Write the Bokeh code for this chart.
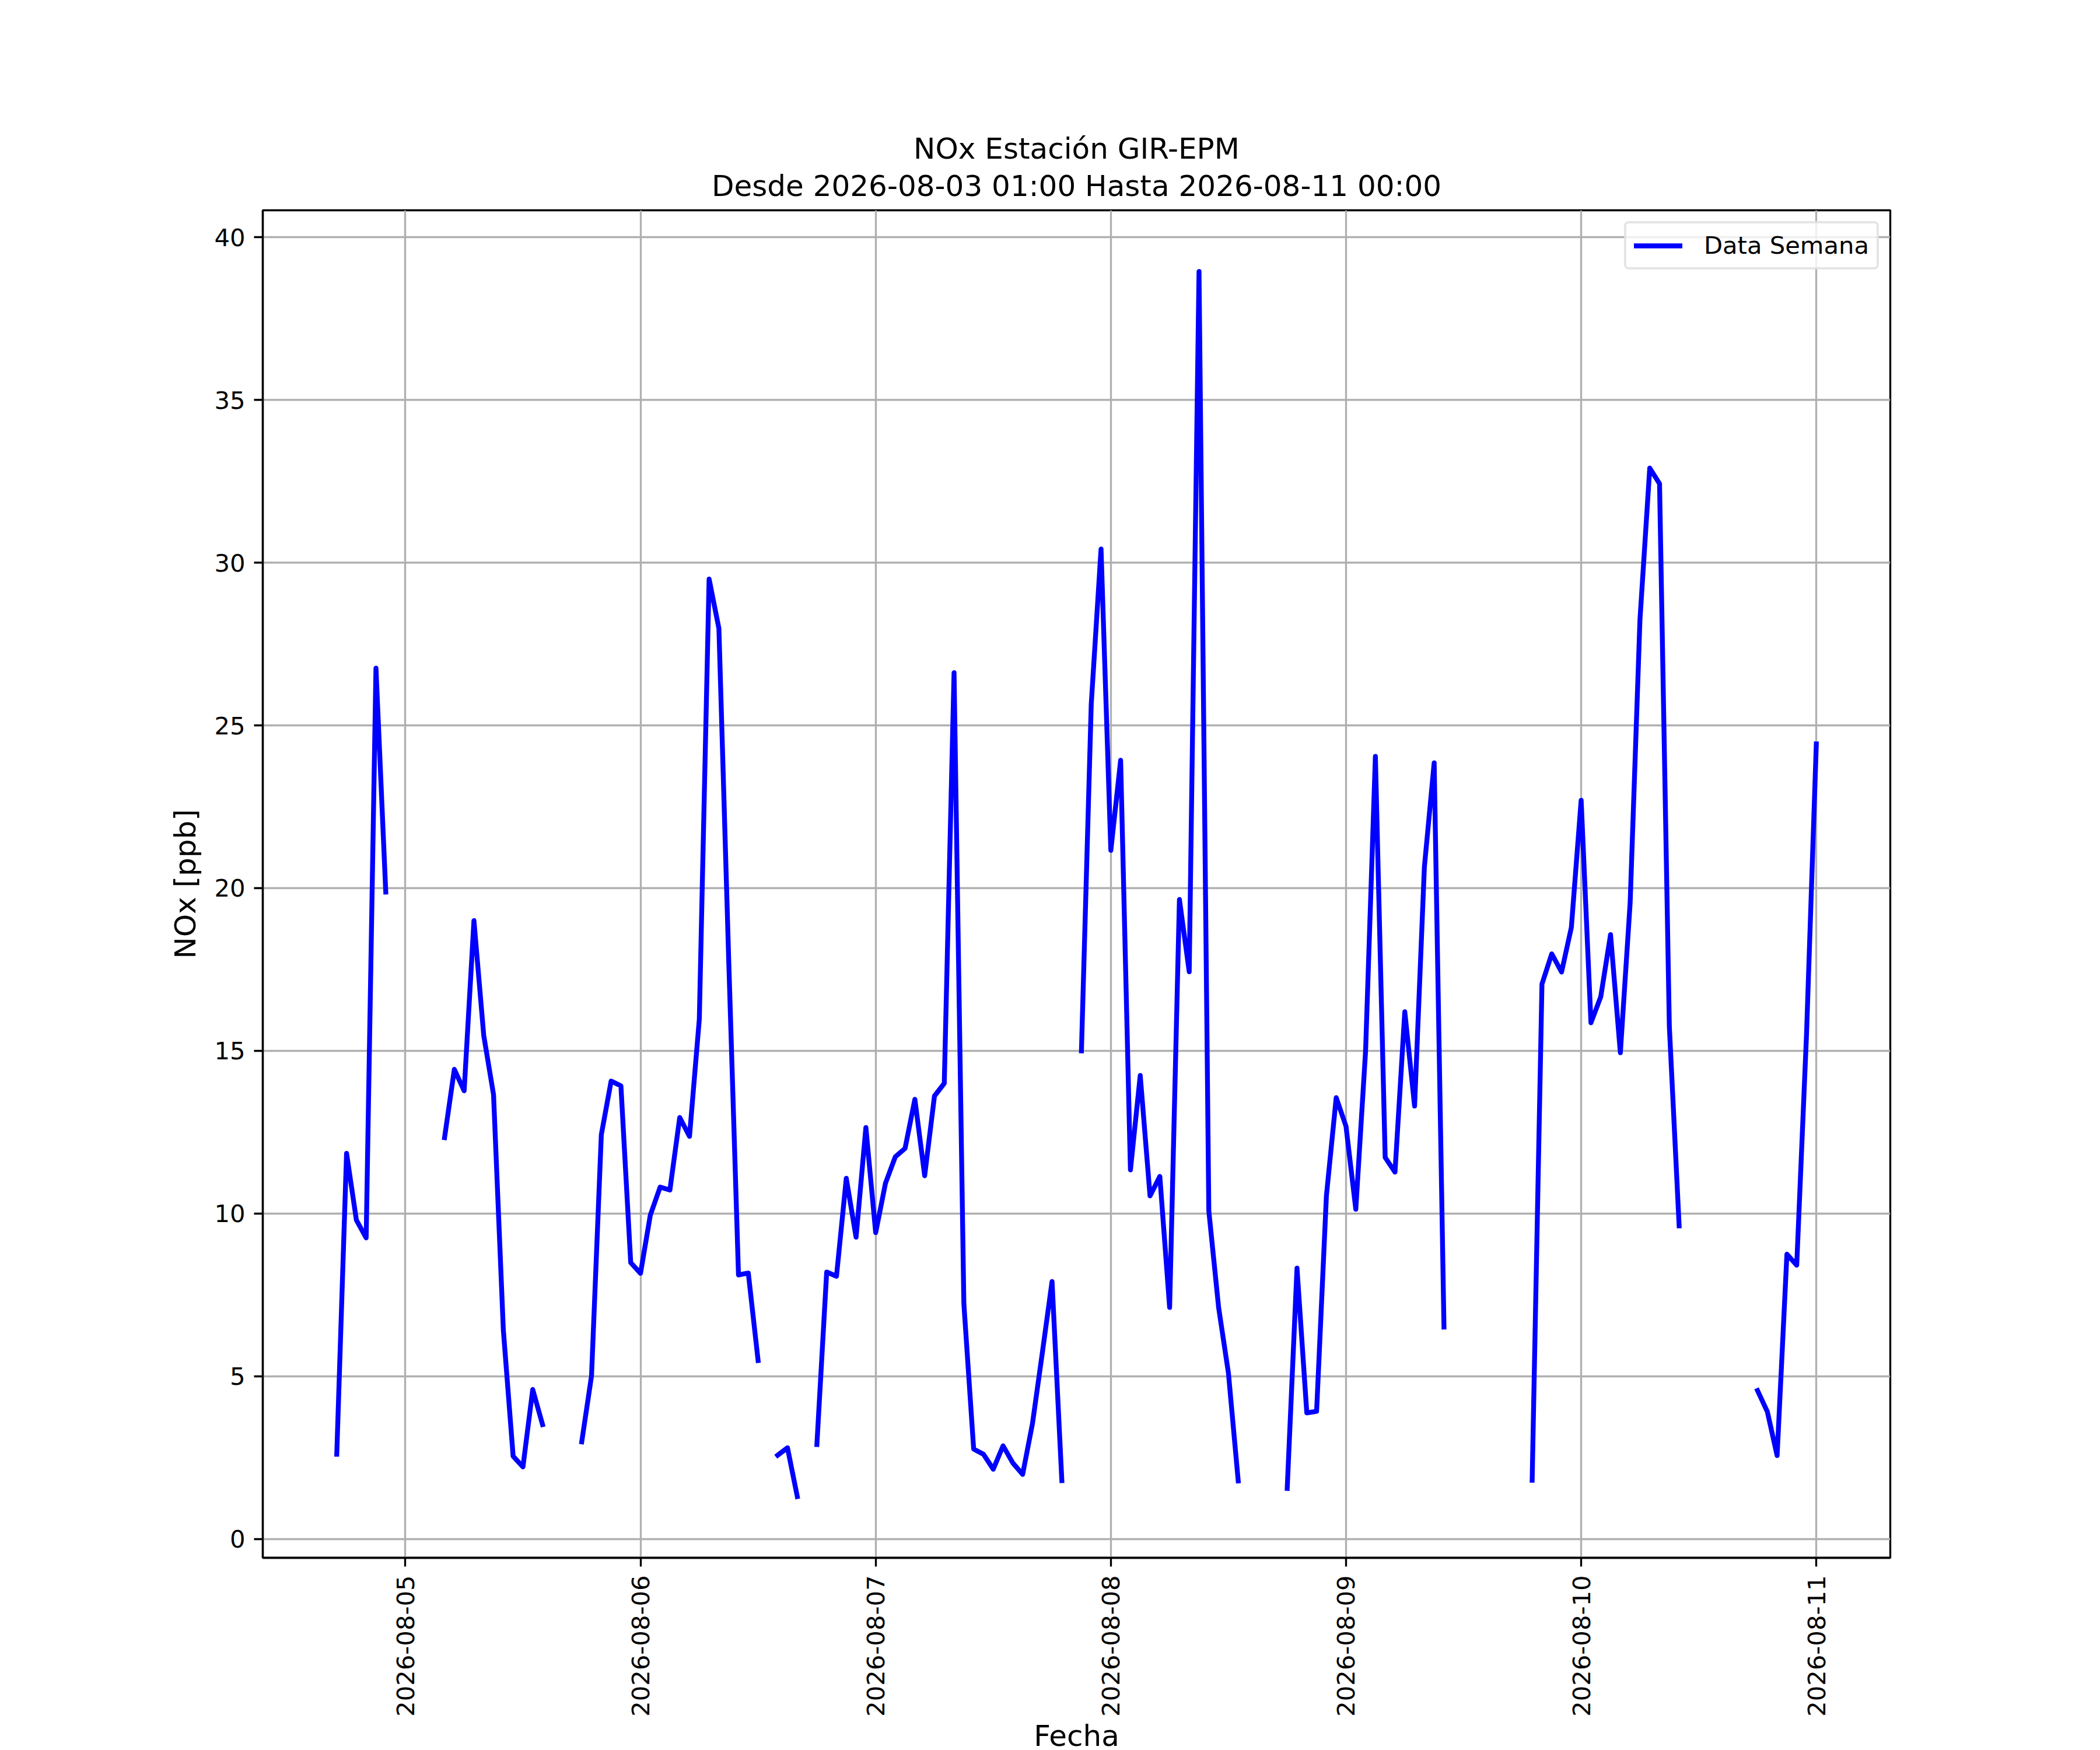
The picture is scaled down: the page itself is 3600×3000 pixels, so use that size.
import numpy as np
import pandas as pd
from bokeh.plotting import figure
from bokeh.models import (ColumnDataSource, Range1d, FixedTicker, DatetimeTickFormatter,
                          Title, Legend, LegendItem)
from bokeh.embed import file_html
from bokeh.resources import INLINE

nan = float("nan")

# Hourly NOx values [ppb]; first value at 2026-08-04 17:00
first_hour = "2026-08-04 17:00"
nox_0804 = [2.6, 11.85, 9.8, 9.25, 26.76, 19.88, nan]  # 17..23
nox_0805 = [nan, nan, nan, nan, 12.33, 14.43, 13.77, 19.0, 15.47, 13.65, 6.42, 2.54,
            2.21, 4.59, 3.51, nan, nan, nan, 2.98, 5.01, 12.42, 14.07, 13.92, 8.49]
nox_0806 = [8.16, 9.95, 10.81, 10.72, 12.95, 12.37, 15.97, 29.5, 27.98, 17.8, 8.11, 8.17,
            5.48, nan, 2.57, 2.80, 1.30, nan, 2.9, 8.2, 8.07, 11.08, 9.27, 12.64]
nox_0807 = [9.41, 10.93, 11.74, 12.0, 13.51, 11.16, 13.61, 14.0, 26.62, 7.23, 2.76, 2.6,
            2.14, 2.86, 2.33, 1.98, 3.54, 5.7, 7.91, 1.79, nan, 15.0, 25.65, 30.42]
nox_0808 = [21.16, 23.93, 11.34, 14.24, 10.54, 11.14, 7.11, 19.65, 17.43, 38.95, 10.08, 7.11,
            5.1, 1.78, nan, nan, nan, nan, 1.55, 8.32, 3.87, 3.92, 10.54, 13.56]
nox_0809 = [12.68, 10.13, 15.0, 24.05, 11.72, 11.27, 16.2, 13.3, 20.65, 23.85, 6.51, nan,
            nan, nan, nan, nan, nan, nan, nan, 1.80, 17.05, 17.98, 17.42, 18.79]
nox_0810 = [22.70, 15.86, 16.66, 18.57, 14.94, 19.55, 28.24, 32.91, 32.43, 15.75, 9.62, nan,
            nan, nan, nan, nan, nan, nan, 4.56, 3.91, 2.56, 8.75, 8.41, 15.5]
nox_0811 = [24.43]

x_tick_dates = ["2026-08-05", "2026-08-06", "2026-08-07", "2026-08-08",
                "2026-08-09", "2026-08-10", "2026-08-11"]
y_ticks = [0, 5, 10, 15, 20, 25, 30, 35, 40]

title_main = "NOx Estación GIR-EPM"
title_sub = "Desde 2026-08-03 01:00 Hasta 2026-08-11 00:00"
x_label = "Fecha"
y_label = "NOx [ppb]"
series_label = "Data Semana"

values = np.array(nox_0804 + nox_0805 + nox_0806 + nox_0807 + nox_0808 +
                  nox_0809 + nox_0810 + nox_0811, dtype=float)
times = pd.date_range(first_hour, periods=len(values), freq="h")

valid = ~np.isnan(values)
t0, t1 = times[valid][0], times[valid][-1]
span = t1 - t0
x_range = Range1d(start=(t0 - 0.05 * span).to_pydatetime(), end=(t1 + 0.05 * span).to_pydatetime())
vmin, vmax = values[valid].min(), values[valid].max()
vr = vmax - vmin
y_range = Range1d(start=vmin - 0.05 * vr, end=vmax + 0.05 * vr)

src = ColumnDataSource(data=dict(t=times, v=values))

FONT = "DejaVu Sans"
PT = 300 / 72.0

p = figure(x_axis_type="datetime", x_range=x_range, y_range=y_range,
           frame_width=2790, frame_height=2310,
           min_border_left=450, min_border_right=344, min_border_top=360, min_border_bottom=322,
           output_backend="svg", toolbar_location=None, title_location=None,
           background_fill_color="white", border_fill_color="white")

p.add_layout(Title(text=title_sub, align="center", text_font=FONT, text_font_size=f"{12*PT:.1f}px",
                   text_font_style="normal", text_color="black", standoff=25,
                   text_line_height=0.85), "above")
p.add_layout(Title(text=title_main, align="center", text_font=FONT, text_font_size=f"{12*PT:.1f}px",
                   text_font_style="normal", text_color="black", standoff=-16), "above")

r = p.line(x="t", y="v", source=src, line_color="blue", line_width=2 * PT,
           line_join="round", line_cap="square")

tick_ms = [(pd.Timestamp(d) - pd.Timestamp("1970-01-01")) // pd.Timedelta("1ms") for d in x_tick_dates]
p.xaxis.ticker = FixedTicker(ticks=tick_ms)
fmt = "%Y-%m-%d"
p.xaxis.formatter = DatetimeTickFormatter(microseconds=fmt, milliseconds=fmt, seconds=fmt,
                                          minsec=fmt, minutes=fmt, hourmin=fmt, hours=fmt,
                                          days=fmt, months=fmt, years=fmt)
p.xaxis.major_label_orientation = np.pi / 2
p.yaxis.ticker = FixedTicker(ticks=y_ticks)

p.xaxis.axis_label = x_label
p.yaxis.axis_label = y_label

for ax in (p.xaxis, p.yaxis):
    ax.axis_line_color = "black"
    ax.axis_line_width = 0.8 * PT
    ax.major_tick_line_color = "black"
    ax.major_tick_line_width = 0.8 * PT
    ax.major_tick_out = 15
    ax.major_tick_in = 0
    ax.minor_tick_line_color = None
    ax.major_label_text_font = FONT
    ax.major_label_text_font_size = f"{10*PT:.1f}px"
    ax.major_label_text_color = "black"
    ax.major_label_standoff = 15
    ax.axis_label_text_font = FONT
    ax.axis_label_text_font_size = f"{12*PT:.1f}px"
    ax.axis_label_text_font_style = "normal"
    ax.axis_label_text_color = "black"
p.yaxis.axis_label_standoff = 17
p.xaxis.axis_label_standoff = 1

for g in (p.xgrid, p.ygrid):
    g.grid_line_color = "#b0b0b0"
    g.grid_line_width = 0.8 * PT

p.outline_line_color = "black"
p.outline_line_width = 0.8 * PT

legend = Legend(items=[LegendItem(label=series_label, renderers=[r])], location="top_right",
                margin=19, padding=13, spacing=0, glyph_width=83, glyph_height=40,
                label_standoff=37, label_height=40,
                label_text_font=FONT, label_text_font_size=f"{10*PT:.1f}px", label_text_color="black",
                border_line_color="#cccccc", border_line_width=1.0 * PT, border_radius=8,
                background_fill_color="white", background_fill_alpha=0.8)
p.add_layout(legend)

open("out.html", "w").write(file_html(p, INLINE))
